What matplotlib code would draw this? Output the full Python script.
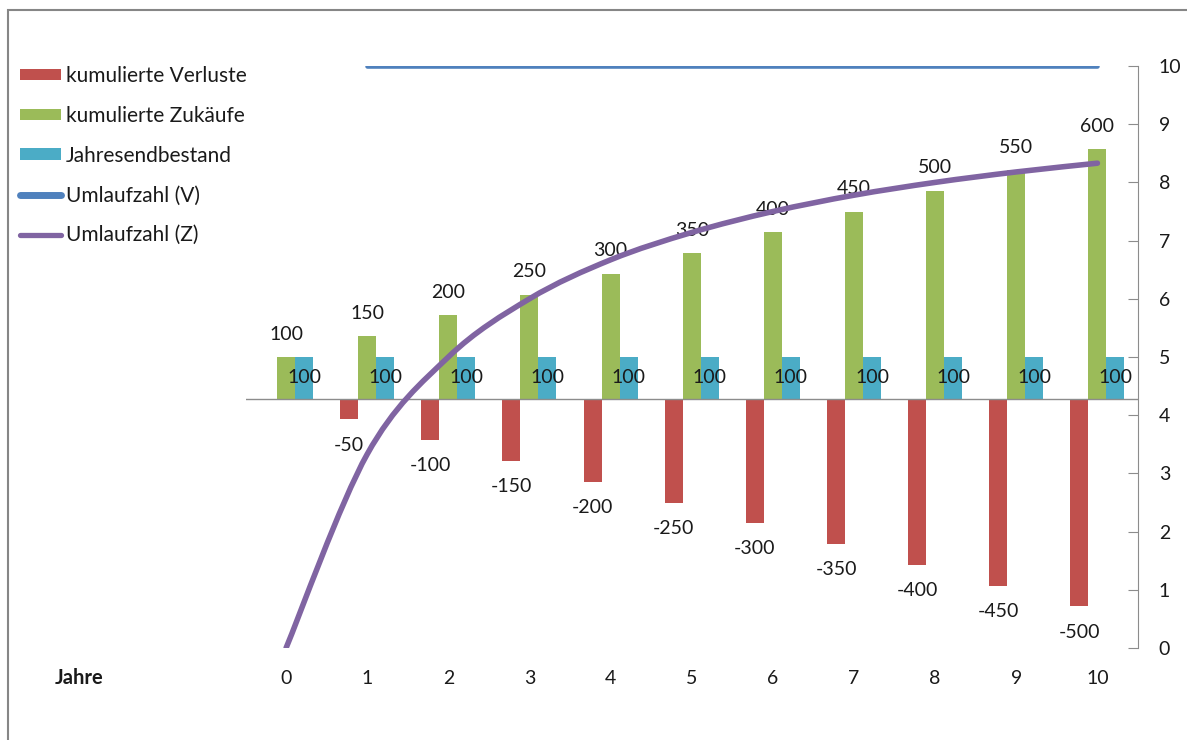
import numpy as np
import matplotlib
matplotlib.use('Agg')
from matplotlib import pyplot as plt
from matplotlib.path import Path
from matplotlib.patches import PathPatch, Rectangle
from matplotlib.lines import Line2D

plt.rcParams['font.family'] = ['Lato', 'DejaVu Sans']
plt.rcParams['font.size'] = 14

jahre = list(range(11))
verluste = [np.nan, -50, -100, -150, -200, -250, -300, -350, -400, -450, -500]
zukaeufe = [100, 150, 200, 250, 300, 350, 400, 450, 500, 550, 600]
bestand = [100, 100, 100, 100, 100, 100, 100, 100, 100, 100, 100]
umlauf_v = [np.nan, 10, 10, 10, 10, 10, 10, 10, 10, 10, 10]
umlauf_z = [0, 3.33, 5.0, 6.0, 6.67, 7.14, 7.5, 7.78, 8.0, 8.18, 8.33]

c_rot = '#C0504D'
c_gruen = '#9BBB59'
c_blau = '#4BACC6'
c_v = '#4F81BD'
c_z = '#8064A2'
grau = '#8c8c8c'
txt = '#1a1a1a'


def smooth_path(xs, ys):
    # excel-artige geglaettete linie (catmull-rom als bezier)
    pts = [np.array([x, y]) for x, y in zip(xs, ys) if not np.isnan(y)]
    n = len(pts)
    verts = [pts[0]]
    codes = [Path.MOVETO]
    for i in range(n - 1):
        p0 = pts[max(i - 1, 0)]
        p1 = pts[i]
        p2 = pts[i + 1]
        p3 = pts[min(i + 2, n - 1)]
        verts += [p1 + (p2 - p0) / 6, p2 - (p3 - p1) / 6, p2]
        codes += [Path.CURVE4] * 3
    return Path(verts, codes)


fig = plt.figure(figsize=(11.87, 7.40), dpi=100)
W, H = 1187, 740
ax = fig.add_axes([245.5 / W, 1 - 648 / H, (1138 - 245.5) / W, (648 - 66) / H])

x = np.arange(len(jahre))
bw = 0.222
b1 = ax.bar(x - bw, verluste, bw, color=c_rot, label='kumulierte Verluste')
b2 = ax.bar(x, zukaeufe, bw, color=c_gruen, label='kumulierte Zukäufe')
b3 = ax.bar(x + bw, bestand, bw, color=c_blau, label='Jahresendbestand')
ax.axhline(0, color=grau, lw=1, zorder=1)

ax.set_ylim(-600, 800)
ax.set_xlim(-0.5, len(jahre) - 0.5)
ax.set_yticks([])
ax.set_xticks(x)
ax.set_xticklabels([str(j) for j in jahre], color=txt)
ax.tick_params(axis='x', length=0, pad=15.5)
for s in ax.spines.values():
    s.set_visible(False)

for xi, v in zip(x, verluste):
    if not np.isnan(v):
        ax.annotate(str(v), (xi - bw, v), xytext=(0, -18.5), textcoords='offset points',
                    ha='center', va='center', color=txt)
for xi, v in zip(x, zukaeufe):
    ax.annotate(str(v), (xi, v), xytext=(0, 16.5), textcoords='offset points',
                ha='center', va='center', color=txt)
for xi, v in zip(x, bestand):
    ax.text(xi + bw, v / 2, str(v), ha='center', va='center', color=txt)

ax2 = ax.twinx()
ax2.set_ylim(0, 10)
ax2.set_yticks(range(11))
ax2.tick_params(axis='y', direction='in', length=7, color=grau, pad=15, labelcolor=txt)
for k, s in ax2.spines.items():
    s.set_visible(k == 'right')
ax2.spines['right'].set_color(grau)

ax2.plot(x, umlauf_v, color=c_v, lw=3.3, solid_capstyle='round')
ax2.add_patch(PathPatch(smooth_path(x, umlauf_z), fill=False, edgecolor=c_z, lw=4,
                        capstyle='round'))

handles = [b1, b2, b3,
           Line2D([], [], color=c_v, lw=5, solid_capstyle='round'),
           Line2D([], [], color=c_z, lw=3.8, solid_capstyle='round')]
labels = ['kumulierte Verluste', 'kumulierte Zukäufe', 'Jahresendbestand',
          'Umlaufzahl (V)', 'Umlaufzahl (Z)']
fig.legend(handles, labels, loc='upper left', bbox_to_anchor=(20 / W, 1 - 66 / H),
           frameon=False, borderpad=0, borderaxespad=0, handlelength=1.97,
           handleheight=0.48, handletextpad=0.24, labelspacing=0.95, labelcolor=txt,
           fontsize=15)

fig.text(55 / W, 1 - 678 / H, 'Jahre', fontsize=14.5, fontweight='bold',
         ha='left', va='center', color=txt)

fig.patches.append(Rectangle((8 / W, -0.1), 1.2, 1 - 10 / H + 0.1, transform=fig.transFigure,
                             fill=False, edgecolor='#868686', lw=1.5))

fig.savefig('out.png', dpi=100)
